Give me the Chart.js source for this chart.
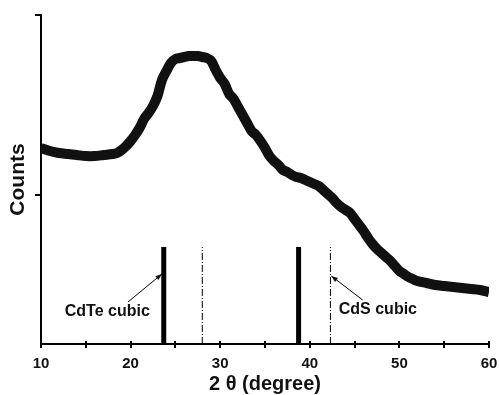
<!DOCTYPE html>
<html>
<head>
<meta charset="utf-8">
<script src="https://cdn.jsdelivr.net/npm/chart.js@4/dist/chart.umd.min.js"></script>
<style>
    html, body { margin: 0; padding: 0; background: #fff; }
    #wrap { width: 499px; height: 395px; position: relative; }
</style>
</head>
<body>
<div id="wrap"><canvas id="myChart"></canvas></div>
<script>
// 2 theta positions (degree) and intensity (arb. units)
const twoTheta = [10, 11, 12, 13, 14, 15, 16, 17, 18, 18.5, 19, 19.5, 20, 20.5, 21, 21.5, 22, 22.5,
    23, 23.5, 24, 24.5, 25, 25.5, 26, 26.5, 27, 27.5, 28, 28.5, 29, 29.5, 30, 30.5, 31, 31.5,
    32, 32.5, 33, 33.5, 34, 34.5, 35, 35.5, 36, 36.5, 37, 37.5, 38, 38.5, 39, 39.5, 40, 40.5,
    41, 41.5, 42, 42.5, 43, 43.5, 44, 44.5, 45, 45.5, 46, 46.5, 47, 47.5, 48, 48.5, 49, 49.5,
    50, 50.5, 51, 51.5, 52, 53, 54, 55, 56, 57, 58, 59, 60];
const counts = [196, 193, 191, 190, 189, 188, 188, 189, 190, 191, 194, 198, 203, 209, 216, 225, 231, 238,
    248, 264, 273, 281, 285, 286, 287, 288, 288, 288, 287, 286, 283, 274, 266, 260, 250, 245,
    237, 229, 221, 213, 209, 203, 196, 188, 183, 179, 174, 172, 169, 167, 166, 164, 162, 160,
    158, 154, 150, 146, 141, 137, 134, 131, 125, 119, 113, 106, 100, 95, 91, 87, 83, 78,
    73, 70, 67, 65, 63, 61, 59, 58, 57, 56, 55, 54, 52];

// reference lines (JCPDS positions)
const cdteLines = [23.7, 38.75];
const cdsLines = [28.0, 42.3];
const refHeight = 97;

const xTicks = [10, 20, 30, 40, 50, 60];
const yTickValues = [149, 329];

// label text, anchor and arrow (start -> tip) in data coords
const labels = [
    { text: "CdTe cubic", x: 17.4, y: 32, from: [19.7, 42], to: [23.5, 70] },
    { text: "CdS cubic", x: 47.6, y: 34, from: [45.9, 44], to: [42.4, 68] },
];

const FONT = "'Liberation Sans', Arial, sans-serif";

function refDataset(pos, width, dash) {
    return {
        data: [{ x: pos, y: 0 }, { x: pos, y: refHeight }],
        borderColor: "#000",
        borderWidth: width,
        borderDash: dash,
        pointRadius: 0,
        tension: 0,
    };
}

const annotate = {
    id: "annotate",
    afterDraw(chart) {
        const ctx = chart.ctx;
        const xs = chart.scales.x, ys = chart.scales.y;
        const bottom = chart.chartArea.bottom;
        ctx.save();
        ctx.strokeStyle = "#000";
        ctx.fillStyle = "#111";
        // x tick marks, every 5 degrees, crossing the axis
        ctx.lineWidth = 2;
        for (let v = 10; v <= 60; v += 5) {
            let px = Math.round(xs.getPixelForValue(v));
            ctx.beginPath();
            ctx.moveTo(px, bottom - 3);
            ctx.lineTo(px, bottom + 4);
            ctx.stroke();
        }
        ctx.lineWidth = 1;
        labels.forEach((lb) => {
            let x1 = xs.getPixelForValue(lb.from[0]), y1 = ys.getPixelForValue(lb.from[1]);
            let x2 = xs.getPixelForValue(lb.to[0]), y2 = ys.getPixelForValue(lb.to[1]);
            ctx.beginPath();
            ctx.moveTo(x1, y1);
            ctx.lineTo(x2, y2);
            ctx.stroke();
            // arrow head
            let a = Math.atan2(y2 - y1, x2 - x1);
            ctx.beginPath();
            ctx.moveTo(x2, y2);
            ctx.lineTo(x2 - 7 * Math.cos(a - 0.35), y2 - 7 * Math.sin(a - 0.35));
            ctx.lineTo(x2 - 7 * Math.cos(a + 0.35), y2 - 7 * Math.sin(a + 0.35));
            ctx.closePath();
            ctx.fill();
            ctx.font = "bold 16px " + FONT;
            ctx.textAlign = "center";
            ctx.textBaseline = "middle";
            ctx.fillText(lb.text, xs.getPixelForValue(lb.x), ys.getPixelForValue(lb.y));
        });
        ctx.restore();
    }
};

document.addEventListener('DOMContentLoaded', function() {
    const scan = twoTheta.map((t, i) => ({ x: t, y: counts[i] }));
    const datasets = [{
        data: scan,
        borderColor: "#111",
        borderWidth: 10,
        borderJoinStyle: "round",
        pointRadius: 0,
        tension: 0.3,
    }];
    cdteLines.forEach(p => datasets.push(refDataset(p, 5, [])));
    cdsLines.forEach(p => datasets.push(refDataset(p, 1, [7, 2, 1, 2])));

    new Chart(document.getElementById("myChart"), {
        type: "line",
        data: { datasets: datasets },
        options: {
            responsive: true,
            maintainAspectRatio: false,
            animation: false,
            layout: { padding: { top: 15, right: 0, left: 0, bottom: 0 } },
            plugins: { legend: { display: false }, tooltip: { enabled: false } },
            scales: {
                x: {
                    type: "linear",
                    min: 10,
                    max: 60,
                    ticks: {
                        stepSize: 5,
                        autoSkip: false,
                        maxRotation: 0,
                        padding: 11,
                        color: "#111",
                        font: { family: FONT, size: 15, weight: "bold" },
                        callback: (v) => xTicks.includes(v) ? v : "",
                    },
                    grid: { display: false, drawTicks: false },
                    border: { display: true, color: "#000", width: 2 },
                    title: {
                        display: true,
                        text: "2 θ (degree)",
                        color: "#111",
                        padding: { top: 0, bottom: 0 },
                        font: { family: FONT, size: 20, weight: "bold", lineHeight: 1.1 },
                    },
                    afterFit: (scale) => { scale.height = 51; scale.paddingRight = 10; },
                },
                y: {
                    type: "linear",
                    min: 0,
                    max: 329,
                    afterBuildTicks: (scale) => { scale.ticks = yTickValues.map(v => ({ value: v })); },
                    ticks: { callback: () => "" },
                    grid: { drawOnChartArea: false, drawTicks: true, tickLength: 6, color: "#000", lineWidth: 2 },
                    border: { display: true, color: "#000", width: 2 },
                    title: {
                        display: true,
                        text: "Counts",
                        color: "#111",
                        padding: { top: 7, bottom: 0 },
                        font: { family: FONT, size: 21, weight: "bold", lineHeight: 1.1 },
                    },
                    afterFit: (scale) => { scale.width = 41; },
                },
            },
        },
        plugins: [annotate],
    });
});
</script>
</body>
</html>
